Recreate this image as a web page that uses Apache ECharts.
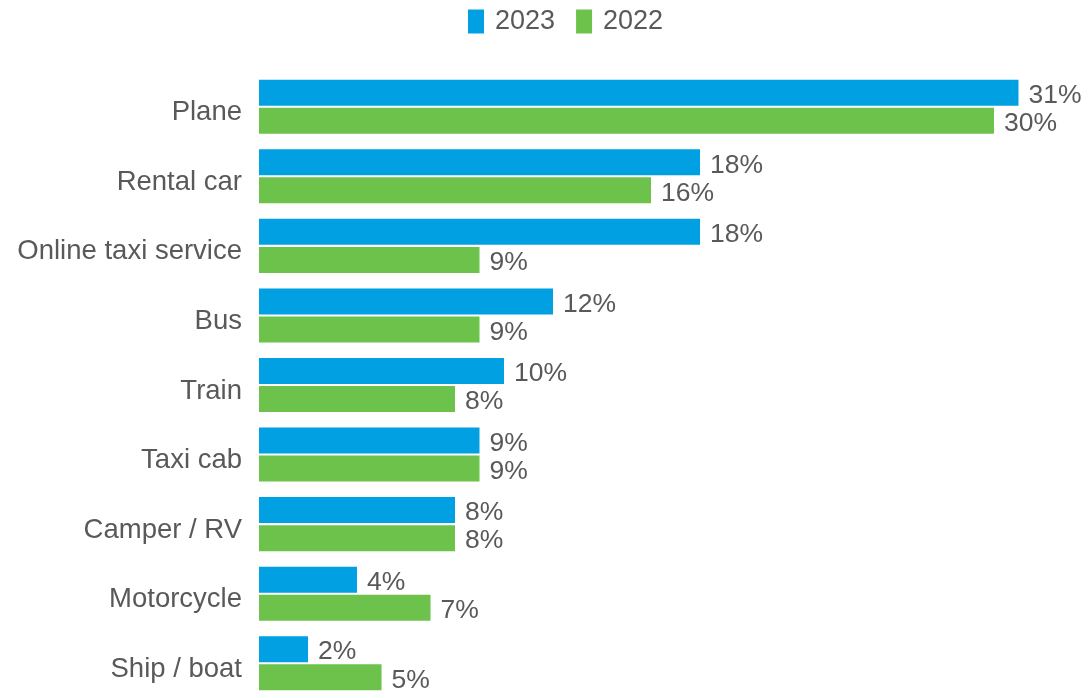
<!DOCTYPE html>
<html>
<head>
<meta charset="utf-8">
<script src="https://cdn.jsdelivr.net/npm/echarts@6/dist/echarts.min.js"></script>
<style>
  html, body { margin: 0; padding: 0; background: #ffffff; }
  #chart { width: 1089px; height: 698px; }
</style>
</head>
<body>
<div id="chart"></div>
<script>
// Transport modes, listed top to bottom
const categories = ['Plane', 'Rental car', 'Online taxi service', 'Bus', 'Train', 'Taxi cab', 'Camper / RV', 'Motorcycle', 'Ship / boat'];
// Share of respondents, in percent
const values2023 = [31, 18, 18, 12, 10, 9, 8, 4, 2];
const values2022 = [30, 16, 9, 9, 8, 9, 8, 7, 5];
const seriesNames = ['2023', '2022'];

const TEXT = '#595959';
const FONT = 'Liberation Sans, Arial, sans-serif';

const chart = echarts.init(document.getElementById('chart'), null, { renderer: 'canvas' });

const labelStyle = {
  show: true,
  position: 'right',
  distance: 10,
  offset: [0, 3],
  formatter: p => p.value + '%',
  color: TEXT,
  fontSize: 26.5,
  fontFamily: FONT
};

chart.setOption({
  animation: false,
  backgroundColor: '#ffffff',
  legend: {
    top: 3,
    left: 463,
    itemWidth: 16,
    itemHeight: 24,
    itemGap: 21,
    icon: 'rect',
    textStyle: { color: TEXT, fontSize: 27, fontFamily: FONT, padding: [0, 0, 0, 6] },
    data: seriesNames
  },
  grid: { left: 259, right: 46, top: 72, height: 630, containLabel: false },
  xAxis: {
    type: 'value',
    min: 0,
    max: 32,
    show: false
  },
  yAxis: {
    type: 'category',
    inverse: true,
    data: categories,
    axisLine: { show: false },
    axisTick: { show: false },
    axisLabel: {
      margin: 17,
      // a thin spacer line above each name nudges it slightly below the band centre
      formatter: v => '{gap| }\n{name|' + v + '}',
      rich: {
        gap: { fontSize: 1, lineHeight: 12 },
        name: { color: TEXT, fontSize: 27.5, fontFamily: FONT, lineHeight: 32 }
      }
    }
  },
  series: [
    {
      name: seriesNames[0],
      type: 'bar',
      data: values2023,
      barWidth: 26,
      barGap: '8%',
      itemStyle: { color: '#00A0E2' },
      label: labelStyle
    },
    {
      name: seriesNames[1],
      type: 'bar',
      data: values2022,
      barWidth: 26,
      barGap: '8%',
      itemStyle: { color: '#6CC24A' },
      label: labelStyle
    }
  ]
});
</script>
</body>
</html>
